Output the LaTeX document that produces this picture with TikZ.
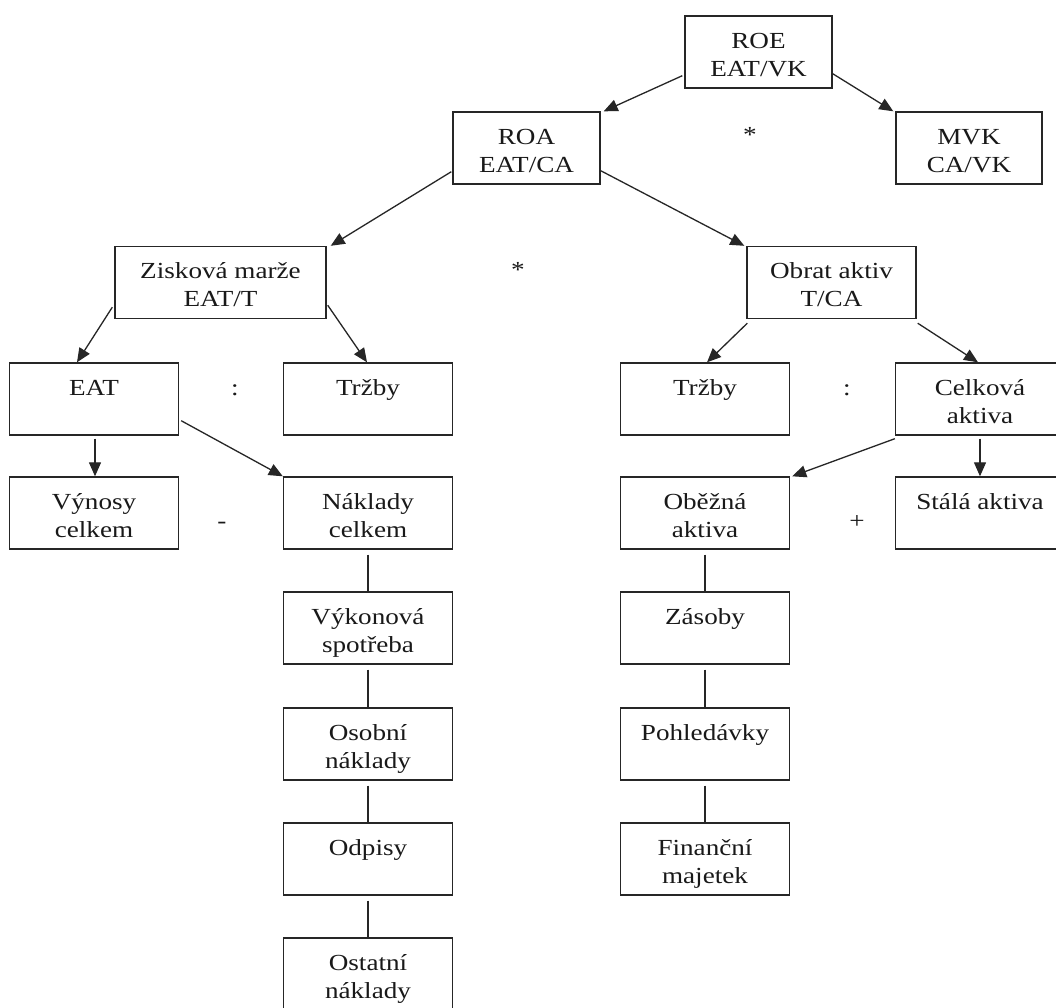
\documentclass[tikz,border=0pt]{standalone}
\usepackage{fontspec}
\setmainfont{Liberation Serif}[FakeStretch=1.18]
\usetikzlibrary{arrows.meta,calc}
\newcommand\bx[2][140pt]{\parbox[c][72pt][t]{#1}{\centering\rule{0pt}{32pt}#2\par}}
\tikzset{
  box/.style={draw=black!85, line width=1.4pt, rectangle, inner sep=0pt, minimum height=72pt, minimum width=#1},
  box/.default=169pt,
  arr/.style={draw=black!85, line width=1.3pt, -{Triangle[length=14pt,width=12pt]}},
  conn/.style={draw=black!85, line width=1.4pt},
  sym/.style={inner sep=0pt, anchor=base},
}
\begin{document}
\begin{tikzpicture}[x=1pt, y=-1pt, every node/.style={font=\fontsize{23}{28}\selectfont, text=black!90}]
\useasboundingbox[fill=white] (0,0) rectangle (1056,1007);
% level 0
\node[box=147pt] (ROE) at (758.5,52) {\bx{ROE\\EAT/VK}};
% level 1
\node[box=147pt] (ROA) at (526.5,148) {\bx{ROA\\EAT/CA}};
\node[box=146pt] (MVK) at (969,148) {\bx{MVK\\CA/VK}};
% level 2
\node[box=211pt] (ZIS) at (220.5,282.5) {\bx[200pt]{Zisková marže\\EAT/T}};
\node[box] (OBR) at (831.5,282.5) {\bx[160pt]{Obrat aktiv\\T/CA}};
% level 3
\node[box] (EAT) at (94,399) {\bx[160pt]{EAT}};
\node[box] (TRL) at (368,399) {\bx[160pt]{Tržby}};
\node[box] (TRR) at (705,399) {\bx[160pt]{Tržby}};
\node[box] (CEL) at (980,399) {\bx[160pt]{Celková\\aktiva}};
% level 4
\node[box] (VYN) at (94,513) {\bx[160pt]{Výnosy\\celkem}};
\node[box] (NAK) at (368,513) {\bx[160pt]{Náklady\\celkem}};
\node[box] (OBE) at (705,513) {\bx[160pt]{Oběžná\\aktiva}};
\node[box] (STA) at (980,513) {\bx[160pt]{Stálá aktiva}};
% cost chain
\node[box] (VYK) at (368,628) {\bx[160pt]{Výkonová\\spotřeba}};
\node[box] (OSO) at (368,744) {\bx[160pt]{Osobní\\náklady}};
\node[box] (ODP) at (368,859) {\bx[160pt]{Odpisy}};
\node[box] (OST) at (368,974) {\bx[160pt]{Ostatní\\náklady}};
% asset chain
\node[box] (ZAS) at (705,628) {\bx[160pt]{Zásoby}};
\node[box] (POH) at (705,744) {\bx[160pt]{Pohledávky}};
\node[box] (FIN) at (705,859) {\bx[160pt]{Finanční\\majetek}};
% operators
\node[sym] (s1) at (750,142) {*};
\node[sym] (s2) at (518,277) {*};
\node[sym] (c1) at (235,395) {:};
\node[sym] (c2) at (847,395) {:};
\node[sym] (m1) at (222,528) {-};
\node[sym] (p1) at (857,528) {+};
% arrows
\draw[arr] ($(ROE.south west)+(-2,-13)$) -- ($(ROA.north east)+(3,0)$);
\draw[arr] ($(ROE.south east)+(0,-15)$) -- ($(MVK.north west)+(-2,0)$);
\draw[arr] ($(ROA.south west)+(-1,-13)$) -- ($(ZIS.north east)+(4,0)$);
\draw[arr] ($(ROA.south east)+(0,-14)$) -- ($(OBR.north west)+(-2,0)$);
\draw[arr] ($(ZIS.south west)+(-2,-12)$) -- ($(EAT.north)+(-17,0)$);
\draw[arr] ($(ZIS.south east)+(1,-14)$) -- ($(TRL.north)+(-1,0)$);
\draw[arr] ($(EAT.south)+(1,3)$) -- ($(VYN.north)+(1,0)$);
\draw[arr] ($(EAT.south east)+(2,-15)$) -- (NAK.north west);
\draw[arr] ($(OBR.south west)+(1,4)$) -- ($(TRR.north)+(2,0)$);
\draw[arr] ($(OBR.south east)+(1,4)$) -- ($(CEL.north)+(-2,0)$);
\draw[arr] ($(CEL.south west)+(0,3)$) -- ($(OBE.north east)+(2,0)$);
\draw[arr] ($(CEL.south)+(0,3)$) -- (STA.north);
% plain connectors
\draw[conn] ($(NAK.south)+(0,5)$) -- (VYK.north);
\draw[conn] ($(VYK.south)+(0,5)$) -- (OSO.north);
\draw[conn] ($(OSO.south)+(0,5)$) -- (ODP.north);
\draw[conn] ($(ODP.south)+(0,5)$) -- (OST.north);
\draw[conn] ($(OBE.south)+(0,5)$) -- (ZAS.north);
\draw[conn] ($(ZAS.south)+(0,5)$) -- (POH.north);
\draw[conn] ($(POH.south)+(0,5)$) -- (FIN.north);
\end{tikzpicture}
\end{document}
